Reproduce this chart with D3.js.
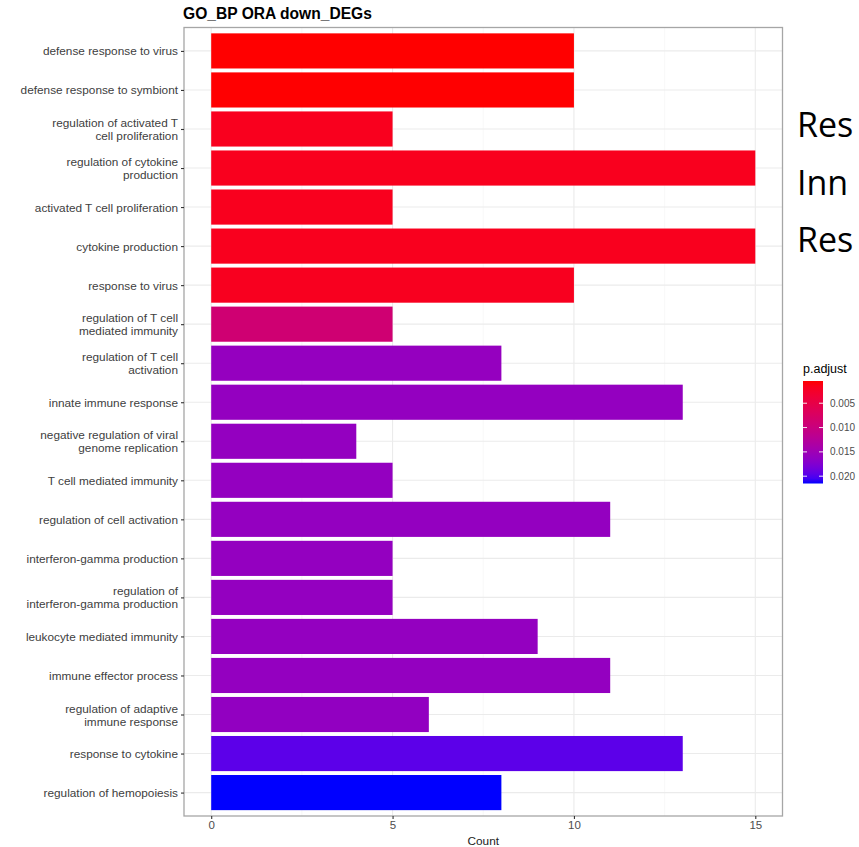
<!DOCTYPE html>
<html>
<head>
<meta charset="utf-8">
<script src="https://cdn.jsdelivr.net/npm/d3@7"></script>
<style>
  html, body { margin: 0; padding: 0; background: #fff; }
  svg { display: block; }
</style>
</head>
<body>
<svg id="chart" width="859" height="847"></svg>
<script>
// GO biological process terms (top to bottom), wrapped as in the plot
const terms = [
  "defense response to virus",
  "defense response to symbiont",
  "regulation of activated T\ncell proliferation",
  "regulation of cytokine\nproduction",
  "activated T cell proliferation",
  "cytokine production",
  "response to virus",
  "regulation of T cell\nmediated immunity",
  "regulation of T cell\nactivation",
  "innate immune response",
  "negative regulation of viral\ngenome replication",
  "T cell mediated immunity",
  "regulation of cell activation",
  "interferon-gamma production",
  "regulation of\ninterferon-gamma production",
  "leukocyte mediated immunity",
  "immune effector process",
  "regulation of adaptive\nimmune response",
  "response to cytokine",
  "regulation of hemopoiesis"
];
const counts = [10, 10, 5, 15, 5, 15, 10, 5, 8, 13, 4, 5, 11, 5, 5, 9, 11, 6, 13, 8];
const pAdjust = [0.00043, 0.00045, 0.0017, 0.0017, 0.0017, 0.0017, 0.0018, 0.0089, 0.0159, 0.0160,
                 0.0160, 0.0160, 0.0160, 0.0160, 0.0160, 0.0160, 0.0160, 0.0161, 0.0196, 0.0215];
const countTicks = [0, 5, 10, 15];
const minorTicks = [2.5, 7.5, 12.5];
const legendTicks = [0.005, 0.010, 0.015, 0.020];
const sideNotes = ["Res", "Inn", "Res"];

const data = terms.map((t, i) => ({ term: t, count: counts[i], p: pAdjust[i] }));

const svg = d3.select("#chart");
const panel = { left: 184, top: 27.5, right: 782.5, bottom: 816 };

// x: Count with 5% expansion on each side
const x = d3.scaleLinear()
  .domain([-0.75, 15.75])
  .range([panel.left, panel.right]);

// y: discrete terms with 0.6 step padding at each end
const y = d3.scalePoint()
  .domain(terms)
  .range([panel.top, panel.bottom])
  .padding(0.6);
const barH = y.step() * 0.9;

const pExtent = d3.extent(pAdjust);
const color = d3.scaleLinear()
  .domain(pExtent)
  .range(["red", "blue"])
  .interpolate(d3.interpolateLab);

// panel grid
const grid = svg.append("g");
grid.selectAll("line.minor").data(minorTicks).join("line")
  .attr("x1", d => x(d)).attr("x2", d => x(d))
  .attr("y1", panel.top).attr("y2", panel.bottom)
  .attr("stroke", "#f4f4f4").attr("stroke-width", 0.6);
grid.selectAll("line.vmajor").data(countTicks).join("line")
  .attr("x1", d => x(d)).attr("x2", d => x(d))
  .attr("y1", panel.top).attr("y2", panel.bottom)
  .attr("stroke", "#ebebeb").attr("stroke-width", 1.1);
grid.selectAll("line.hmajor").data(terms).join("line")
  .attr("x1", panel.left).attr("x2", panel.right)
  .attr("y1", d => y(d)).attr("y2", d => y(d))
  .attr("stroke", "#ebebeb").attr("stroke-width", 1.1);

// bars
svg.append("g").selectAll("rect").data(data).join("rect")
  .attr("x", x(0))
  .attr("y", d => y(d.term) - barH / 2)
  .attr("width", d => x(d.count) - x(0))
  .attr("height", barH)
  .attr("fill", d => color(d.p));

// panel border
svg.append("rect")
  .attr("x", panel.left).attr("y", panel.top)
  .attr("width", panel.right - panel.left).attr("height", panel.bottom - panel.top)
  .attr("fill", "none").attr("stroke", "#a6a6a6").attr("stroke-width", 1.3);

const font = "'Liberation Sans', Arial, Helvetica, sans-serif";

// x axis
const xAxis = svg.append("g")
  .attr("transform", `translate(0,${panel.bottom})`)
  .call(d3.axisBottom(x).tickValues(countTicks).tickSize(3).tickPadding(2).tickFormat(d3.format("d")));
xAxis.select(".domain").remove();
xAxis.selectAll(".tick line").attr("stroke", "#333").attr("stroke-width", 1.1);
xAxis.selectAll(".tick text")
  .attr("fill", "#4d4d4d").style("font-family", font).style("font-size", "11.5px");

svg.append("text")
  .attr("x", (panel.left + panel.right) / 2).attr("y", 844.5)
  .attr("text-anchor", "middle")
  .attr("fill", "#222").style("font-family", font).style("font-size", "11.8px")
  .text("Count");

// y axis with wrapped labels
const yAxis = svg.append("g")
  .attr("transform", `translate(${panel.left},0)`)
  .call(d3.axisLeft(y).tickSize(3).tickPadding(3).tickFormat(""));
yAxis.select(".domain").remove();
yAxis.selectAll(".tick line").attr("stroke", "#333").attr("stroke-width", 1.1);
const lineH = 13;
yAxis.selectAll(".tick").each(function (d) {
  const lines = d.split("\n");
  const t = d3.select(this).select("text")
    .attr("fill", "#404040")
    .attr("text-anchor", "end")
    .attr("x", -6)
    .attr("dy", null)
    .style("font-family", font).style("font-size", "11.8px");
  t.text(null);
  lines.forEach((ln, i) => {
    t.append("tspan")
      .attr("x", -6)
      .attr("y", (i - (lines.length - 1) / 2) * lineH + 4)
      .text(ln);
  });
});

// title
svg.append("text")
  .attr("x", panel.left - 1).attr("y", 19)
  .attr("fill", "#000")
  .style("font-family", font).style("font-size", "15.6px").style("font-weight", "bold")
  .text("GO_BP ORA down_DEGs");

// colour bar legend
const legend = { x: 803, top: 381, bottom: 483.5, w: 20 };
const lg = svg.append("g");
lg.append("text")
  .attr("x", legend.x).attr("y", 373)
  .attr("fill", "#000").style("font-family", font).style("font-size", "12.5px")
  .text("p.adjust");

const defs = svg.append("defs");
const grad = defs.append("linearGradient")
  .attr("id", "pgrad").attr("x1", 0).attr("x2", 0).attr("y1", 0).attr("y2", 1);
d3.range(0, 1.0001, 0.05).forEach(s => {
  grad.append("stop")
    .attr("offset", s)
    .attr("stop-color", color(pExtent[0] + s * (pExtent[1] - pExtent[0])));
});
lg.append("rect")
  .attr("x", legend.x).attr("y", legend.top)
  .attr("width", legend.w).attr("height", legend.bottom - legend.top)
  .attr("fill", "url(#pgrad)");

const ly = d3.scaleLinear().domain(pExtent).range([legend.top, legend.bottom]);
lg.selectAll("line.tl").data(legendTicks).join("line")
  .attr("x1", legend.x).attr("x2", legend.x + 4)
  .attr("y1", d => ly(d)).attr("y2", d => ly(d))
  .attr("stroke", "#fff").attr("stroke-width", 0.9);
lg.selectAll("line.tr").data(legendTicks).join("line")
  .attr("x1", legend.x + legend.w - 4).attr("x2", legend.x + legend.w)
  .attr("y1", d => ly(d)).attr("y2", d => ly(d))
  .attr("stroke", "#fff").attr("stroke-width", 0.9);
lg.selectAll("text.tv").data(legendTicks).join("text")
  .attr("x", legend.x + legend.w + 7)
  .attr("y", d => ly(d) + 3.5)
  .attr("fill", "#4d4d4d").style("font-family", font).style("font-size", "10px")
  .text(d => d3.format(".3f")(d));

// side notes at the right edge
svg.append("g").selectAll("text").data(sideNotes).join("text")
  .attr("x", 797)
  .attr("y", (d, i) => 137 + i * 57.5)
  .attr("fill", "#000")
  .style("font-family", "'Open Sans', 'Noto Sans', sans-serif")
  .style("font-size", "34px")
  .text(d => d);
</script>
</body>
</html>
